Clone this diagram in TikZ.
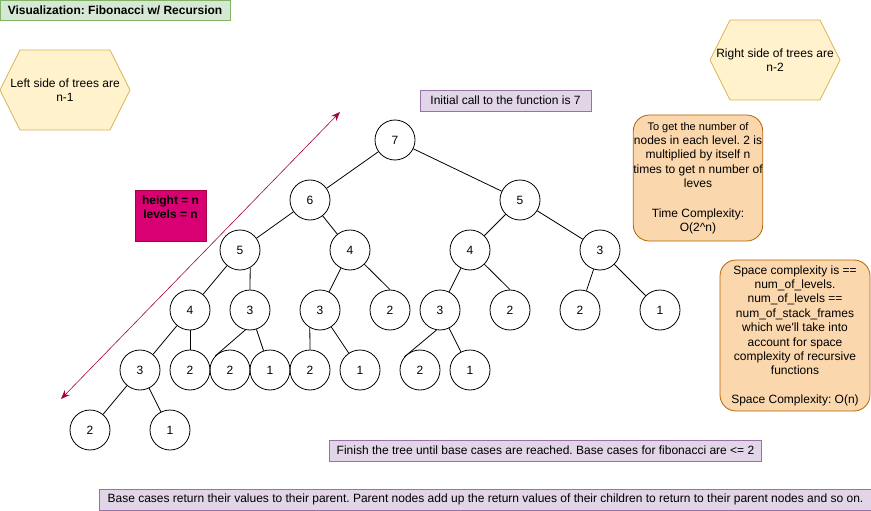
\documentclass[tikz,border=0pt]{standalone}
\usepackage{fontspec}
\setmainfont{Liberation Sans}
\usetikzlibrary{arrows.meta}
\frenchspacing
\definecolor{titlefill}{HTML}{D5E8D4}
\definecolor{titledraw}{HTML}{82B366}
\definecolor{hexfill}{HTML}{FFF2CC}
\definecolor{hexdraw}{HTML}{D6B656}
\definecolor{costfill}{HTML}{FAD7AC}
\definecolor{costdraw}{HTML}{B46504}
\definecolor{notefill}{HTML}{E1D5E7}
\definecolor{notedraw}{HTML}{9673A6}
\definecolor{hgtfill}{HTML}{D80073}
\definecolor{hgtdraw}{HTML}{A50040}
\tikzset{
  num/.style={shape=circle, draw, line width=0.8pt, inner sep=0, minimum size=40pt, font=\fontsize{12}{14.4}\selectfont},
  link/.style={line width=0.8pt},
  note/.style={shape=rectangle, draw=notedraw, fill=notefill, line width=0.8pt, inner sep=0, minimum height=21pt, font=\fontsize{12}{14.4}\selectfont},
  titlebox/.style={shape=rectangle, draw=titledraw, fill=titlefill, line width=0.8pt, inner sep=0, minimum width=230pt, minimum height=20pt, font=\fontsize{12}{14.4}\selectfont\bfseries},
  hexa/.style={draw=hexdraw, fill=hexfill, line width=0.8pt},
  costbox/.style={shape=rectangle, rounded corners=16pt, draw=costdraw, fill=costfill, line width=0.8pt, inner sep=0, align=center, font=\fontsize{12}{14.4}\selectfont},
  hgtbox/.style={shape=rectangle, draw=hgtdraw, fill=hgtfill, line width=0.8pt, inner sep=0, minimum width=71pt, minimum height=51pt},
  hgtarrow/.style={draw=hgtdraw, line width=0.6pt, {Stealth[length=9pt,width=7pt]}-{Stealth[length=9pt,width=7pt]}}
}
\begin{document}
\begin{tikzpicture}[x=1pt, y=-1pt]
	\useasboundingbox (0,0) rectangle (871,511);
	\node[titlebox] (title) at (115,10) {Visualization: Fibonacci w/ Recursion};
	\draw[hexa] (0,90) -- (20,50) -- (110,50) -- (130,90) -- (110,130) -- (20,130) -- cycle;
	\node[align=center, font=\fontsize{12}{14.4}\selectfont] (lhex) at (65,90) {Left side of trees are\\n-1};
	\draw[hexa] (710,60) -- (730,20) -- (820,20) -- (840,60) -- (820,100) -- (730,100) -- cycle;
	\node[align=center, font=\fontsize{12}{14.4}\selectfont] (rhex) at (775,60) {Right side of trees are\\n-2};
	\node[note, minimum width=171pt] (init) at (505.5,100.5) {Initial call to the function is 7};
	\node[note, minimum width=432pt] (finish) at (545.5,450.5) {Finish the tree until base cases are reached. Base cases for fibonacci are <= 2};
	\node[note, minimum width=773pt] (back) at (485.5,499.5) {Base cases return their values to their parent. Parent nodes add up the return values of their children to return to their parent nodes and so on.};
	\node[costbox, minimum width=126pt, minimum height=126pt] (time) at (698,178) {\fontsize{11}{13}\selectfont To get the number of\\nodes in each level. 2 is\\multiplied by itself n\\times to get n number of\\leves\\[15pt]\fontsize{12}{14.4}\selectfont Time Complexity:\\O(2\textasciicircum n)};
	\node[costbox, minimum width=150pt, minimum height=151pt] (space) at (795,335.5) {Space complexity is ==\\num\_of\_levels.\\num\_of\_levels ==\\num\_of\_stack\_frames\\which we\textquotesingle ll take into\\account for space\\complexity of recursive\\functions\\[14pt]Space Complexity: O(n)};
	\node[hgtbox] (hgt) at (170.5,215.5) {};
	\node[align=center, font=\fontsize{12}{14.4}\selectfont\bfseries] (hgtlbl) at (170.5,207.5) {height = n\\levels = n};
	\coordinate (hlow) at (61,399);
	\coordinate (hhigh) at (340,112);
	\draw[hgtarrow] (hlow) -- (hhigh);
	\node[num] (l0) at (395,140) {7};
	\node[num] (l1a) at (310,200) {6};
	\node[num] (l1b) at (520,200) {5};
	\node[num] (l2a) at (240,250) {5};
	\node[num] (l2b) at (350,250) {4};
	\node[num] (l2c) at (470,250) {4};
	\node[num] (l2d) at (600,250) {3};
	\node[num] (l3a) at (190,310) {4};
	\node[num] (l3b) at (250,310) {3};
	\node[num] (l3c) at (320,310) {3};
	\node[num] (l3d) at (390,310) {2};
	\node[num] (l3e) at (440,310) {3};
	\node[num] (l3f) at (510,310) {2};
	\node[num] (l3g) at (580,310) {2};
	\node[num] (l3h) at (660,310) {1};
	\node[num] (l4a) at (140,370) {3};
	\node[num] (l4b) at (190,370) {2};
	\node[num] (l4c) at (230,370) {2};
	\node[num] (l4d) at (270,370) {1};
	\node[num] (l4e) at (310,370) {2};
	\node[num] (l4f) at (360,370) {1};
	\node[num] (l4g) at (420,370) {2};
	\node[num] (l4h) at (470,370) {1};
	\node[num] (l5a) at (90,430) {2};
	\node[num] (l5b) at (170,430) {1};
	\draw[link] (l0) -- (l1a);
	\draw[link] (l0) -- (l1b);
	\draw[link] (l1a) -- (l2a);
	\draw[link] (l1a) -- (l2b);
	\draw[link] (l1b) -- (l2c);
	\draw[link] (l1b) -- (l2d);
	\draw[link] (l2a) -- (l3a);
	\draw[link] (l2a.-60) -- (l3b.north);
	\draw[link] (l2b) -- (l3c);
	\draw[link] (l2b) -- (l3d.north);
	\draw[link] (l2c) -- (l3e);
	\draw[link] (l2c) -- (l3f.north);
	\draw[link] (l2d) -- (l3g);
	\draw[link] (l2d) -- (l3h);
	\draw[link] (l3a) -- (l4a);
	\draw[link] (l3a) -- (l4b);
	\draw[link] (l3b.257) -- (l4c.137);
	\draw[link] (l3b) -- (l4d);
	\draw[link] (l3c.-120) -- (l4e.north);
	\draw[link] (l3c) -- (l4f);
	\draw[link] (l3e.-100) -- (l4g.140);
	\draw[link] (l3e) -- (l4h);
	\draw[link] (l4a) -- (l5a);
	\draw[link] (l4a) -- (l5b);
\end{tikzpicture}
\end{document}
